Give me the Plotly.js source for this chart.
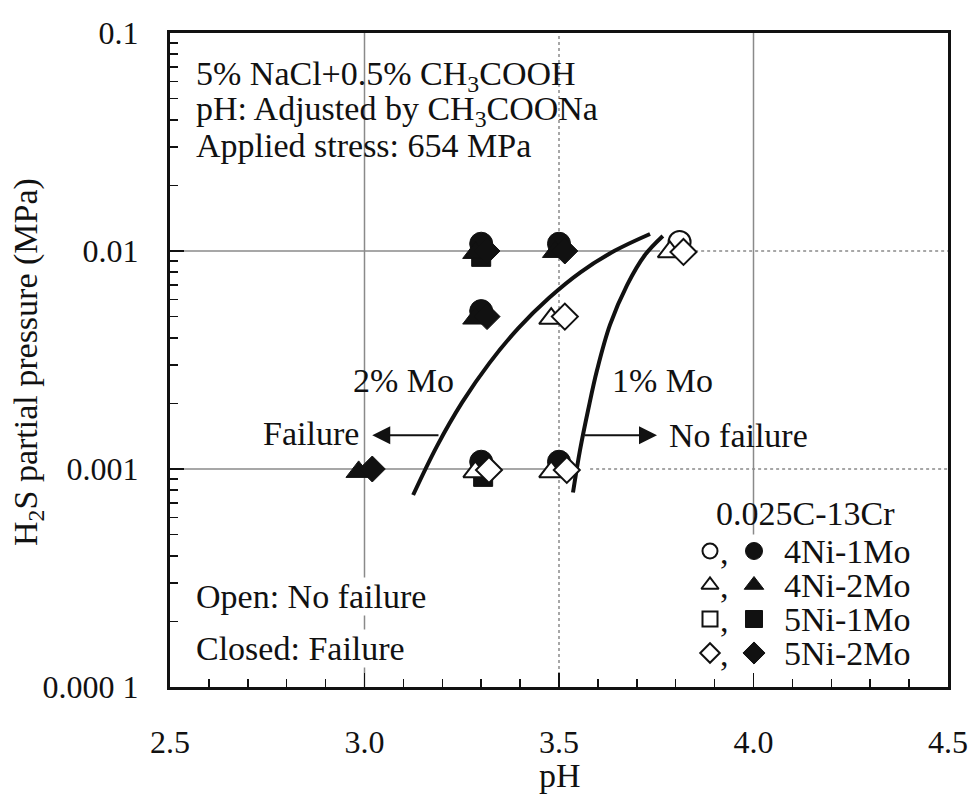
<!DOCTYPE html>
<html>
<head>
<meta charset="utf-8">
<script src="https://cdn.plot.ly/plotly-3.0.1.min.js"></script>
<style>
  html, body { margin: 0; padding: 0; background: #fff; }
  #chart { width: 968px; height: 794px; }
</style>
</head>
<body>
<div id="chart"></div>
<script>
// Sulfide stress cracking map of 0.025C-13Cr steels: pH vs H2S partial pressure

// ---- data ----
// 4Ni-1Mo (circles)
const ni4mo1FailPH = [3.30, 3.50, 3.30, 3.30, 3.50];
const ni4mo1FailP  = [0.0108, 0.0108, 0.0053, 0.00108, 0.00108];
const ni4mo1OkPH   = [3.81];
const ni4mo1OkP    = [0.0110];
// 4Ni-2Mo (triangles)
const ni4mo2FailPH = [3.285, 3.49, 3.285, 2.985];
const ni4mo2FailP  = [0.0098, 0.0099, 0.0049, 0.00097];
const ni4mo2OkPH   = [3.285, 3.48, 3.48, 3.785];
const ni4mo2OkP    = [0.00097, 0.00097, 0.0049, 0.0099];
// 5Ni-1Mo (squares)
const ni5mo1FailPH = [3.30, 3.305];
const ni5mo1FailP  = [0.0094, 0.00092];
// 5Ni-2Mo (diamonds)
const ni5mo2FailPH = [3.315, 3.515, 3.315, 3.02];
const ni5mo2FailP  = [0.0100, 0.0100, 0.0050, 0.00100];
const ni5mo2OkPH   = [3.32, 3.52, 3.515, 3.82];
const ni5mo2OkP    = [0.00099, 0.00099, 0.0050, 0.0099];

// failure boundaries
const mo2BoundPH = [3.125, 3.186, 3.251, 3.321, 3.395, 3.474, 3.556, 3.643, 3.734];
const mo2BoundP  = [0.00076, 0.00127, 0.00202, 0.00306, 0.00442, 0.00609, 0.00801, 0.01002, 0.01197];
const mo1BoundPH = [3.536, 3.554, 3.575, 3.598, 3.631, 3.675, 3.721, 3.767];
const mo1BoundP  = [0.00078, 0.00122, 0.00187, 0.00285, 0.00458, 0.00698, 0.00959, 0.01172];

// axis ticks
const xTickVals = [2.5, 3.0, 3.5, 4.0, 4.5];
const xTickText = ['2.5', '3.0', '3.5', '4.0', '4.5'];
const yTickVals = [0.0001, 0.001, 0.01, 0.1];
const yTickText = ['0.000 1', '0.001', '0.01', '0.1'];

// legend rows
const legendSymbols = ['circle', 'triangle-up', 'square', 'diamond'];
const legendNames   = ['4Ni-1Mo', '4Ni-2Mo', '5Ni-1Mo', '5Ni-2Mo'];

// ---- drawing ----
const FONT = 'Liberation Serif, Times New Roman, serif';
const INK = '#111';
const GRID = '#8a8a8a';
const TXT = 34;

// plot box in pixels
const W = 968, H = 794;
const M = { l: 170, r: 20, t: 33, b: 107 };
const PW = W - M.l - M.r, PH = H - M.t - M.b;
const px = x => (x - M.l) / PW;          // pixel x -> paper
const py = y => (H - M.b - y) / PH;      // pixel y -> paper

// log minor ticks at 2..9 of every decade
const yMinor = [];
for (let e = -4; e < -1; e++) {
  for (let m = 2; m <= 9; m++) yMinor.push(m * Math.pow(10, e));
}

function filled(xs, ys, symbol, size) {
  return { x: xs, y: ys, type: 'scatter', mode: 'markers', showlegend: false,
    hoverinfo: 'skip',
    marker: { symbol: symbol, size: size, color: INK, line: { color: INK, width: 1 } } };
}
function hollow(xs, ys, symbol, size) {
  return { x: xs, y: ys, type: 'scatter', mode: 'markers', showlegend: false,
    hoverinfo: 'skip',
    marker: { symbol: symbol, size: size, color: '#fff', line: { color: INK, width: 2 } } };
}
function boundary(xs, ys) {
  return { x: xs, y: ys, type: 'scatter', mode: 'lines', showlegend: false,
    hoverinfo: 'skip',
    line: { color: INK, width: 4, shape: 'spline', smoothing: 1 } };
}

const traces = [
  boundary(mo2BoundPH, mo2BoundP),
  boundary(mo1BoundPH, mo1BoundP),
  filled(ni4mo1FailPH, ni4mo1FailP, 'circle', 23),
  filled(ni5mo1FailPH, ni5mo1FailP, 'square', 19),
  filled(ni4mo2FailPH, ni4mo2FailP, 'triangle-up', 22),
  filled(ni5mo2FailPH, ni5mo2FailP, 'diamond', 20),
  hollow(ni4mo1OkPH, ni4mo1OkP, 'circle', 22),
  hollow(ni4mo2OkPH, ni4mo2OkP, 'triangle-up', 21),
  hollow(ni5mo2OkPH, ni5mo2OkP, 'diamond', 20)
];

// legend key markers on an overlay axis that spans the paper
const legRowsY = [551, 585, 619, 653];
legendSymbols.forEach((s, i) => {
  traces.push({ x: [px(710)], y: [py(legRowsY[i])], xaxis: 'x2', yaxis: 'y2',
    type: 'scatter', mode: 'markers', showlegend: false, hoverinfo: 'skip',
    marker: { symbol: s, size: 15, color: '#fff', line: { color: INK, width: 2 } } });
  traces.push({ x: [px(754)], y: [py(legRowsY[i])], xaxis: 'x2', yaxis: 'y2',
    type: 'scatter', mode: 'markers', showlegend: false, hoverinfo: 'skip',
    marker: { symbol: s, size: 17, color: INK, line: { color: INK, width: 1 } } });
});

function txt(text, x, y, opts) {
  return Object.assign({ text: text, xref: 'paper', yref: 'paper', x: px(x), y: py(y),
    showarrow: false, xanchor: 'left', yanchor: 'middle', borderpad: 0,
    font: { family: FONT, size: TXT, color: INK } }, opts || {});
}

const annotations = [
  txt('5% NaCl+0.5% CH<sub>3</sub>COOH', 195, 76),
  txt('pH: Adjusted by CH<sub>3</sub>COONa', 195, 111),
  txt('Applied stress: 654 MPa', 195, 145),
  txt('2% Mo', 403, 380, { xanchor: 'center' }),
  txt('1% Mo', 662, 380, { xanchor: 'center' }),
  txt('Failure', 311, 433, { xanchor: 'center' }),
  txt('No failure', 738, 435, { xanchor: 'center' }),
  txt('0.025C-13Cr', 805, 513, { xanchor: 'center' }),
  txt('Open: No failure', 195, 596, { bgcolor: '#fff' }),
  txt('Closed: Failure', 195, 648, { bgcolor: '#fff' }),
  // axis titles
  txt('H<sub>2</sub>S partial pressure (MPa)', 28, 362, { xanchor: 'center', textangle: -90 }),
  txt('pH', 560, 775, { xanchor: 'center' }),
  // region arrows
  { xref: 'x', yref: 'y', axref: 'x', ayref: 'y', x: 3.02, y: Math.log10(0.00143),
    ax: 3.194, ay: Math.log10(0.00143), showarrow: true, arrowhead: 2, arrowsize: 1.8,
    arrowwidth: 2, arrowcolor: INK, text: '' },
  { xref: 'x', yref: 'y', axref: 'x', ayref: 'y', x: 3.752, y: Math.log10(0.00143),
    ax: 3.562, ay: Math.log10(0.00143), showarrow: true, arrowhead: 2, arrowsize: 1.8,
    arrowwidth: 2, arrowcolor: INK, text: '' }
];
legendNames.forEach((n, i) => annotations.push(txt(n, 783, legRowsY[i])));
legendNames.forEach((n, i) => annotations.push(txt(',', 719, legRowsY[i] + 1)));

const gridLine = (x0, y0, x1, y1, dash) => ({ type: 'line', xref: 'x', yref: 'y',
  x0: x0, y0: y0, x1: x1, y1: y1, layer: 'below',
  line: { color: GRID, width: 1.5, dash: dash || 'solid' } });

const shapes = [
  gridLine(3.0, 0.0001, 3.0, 0.1),
  gridLine(3.5, 0.0001, 3.5, 0.1, 'dot'),
  gridLine(4.0, 0.0005, 4.0, 0.1),
  gridLine(2.5, 0.01, 3.76, 0.01),
  gridLine(3.85, 0.01, 4.5, 0.01, 'dot'),
  gridLine(2.5, 0.001, 3.55, 0.001),
  gridLine(3.58, 0.001, 4.5, 0.001, 'dot'),
  // white panel behind the test-condition note
  { type: 'rect', xref: 'paper', yref: 'paper', layer: 'below',
    x0: px(192), x1: px(585), y0: py(162), y1: py(54),
    fillcolor: '#fff', line: { width: 0 } }
];

const layout = {
  width: W, height: H,
  margin: M,
  paper_bgcolor: '#fff', plot_bgcolor: '#fff',
  showlegend: false,
  font: { family: FONT, size: TXT, color: INK },
  xaxis: {
    range: [2.5, 4.5], tickvals: xTickVals, ticktext: xTickText,
    ticks: 'inside', ticklen: 14, tickwidth: 1.5, tickcolor: INK,
    minor: { dtick: 0.1, ticks: 'inside', ticklen: 8, tickwidth: 1.5, tickcolor: INK, showgrid: false },
    showline: true, linewidth: 3, linecolor: INK, mirror: true,
    showgrid: false, zeroline: false, ticklabelstandoff: 25,
    tickfont: { family: FONT, size: 32, color: INK }, fixedrange: true
  },
  yaxis: {
    type: 'log', range: [-4, -1], tickvals: yTickVals, ticktext: yTickText,
    ticks: 'inside', ticklen: 14, tickwidth: 1.5, tickcolor: INK,
    minor: { tickmode: 'array', tickvals: yMinor, ticks: 'inside', ticklen: 8,
             tickwidth: 1.5, tickcolor: INK, showgrid: false },
    showline: true, linewidth: 3, linecolor: INK, mirror: true,
    showgrid: false, zeroline: false, ticklabelstandoff: 22,
    tickfont: { family: FONT, size: 32, color: INK }, fixedrange: true
  },
  xaxis2: { overlaying: 'x', range: [0, 1], visible: false, fixedrange: true },
  yaxis2: { overlaying: 'y', range: [0, 1], visible: false, fixedrange: true },
  annotations: annotations,
  shapes: shapes
};

Plotly.newPlot('chart', traces, layout, { staticPlot: true });
</script>
</body>
</html>
